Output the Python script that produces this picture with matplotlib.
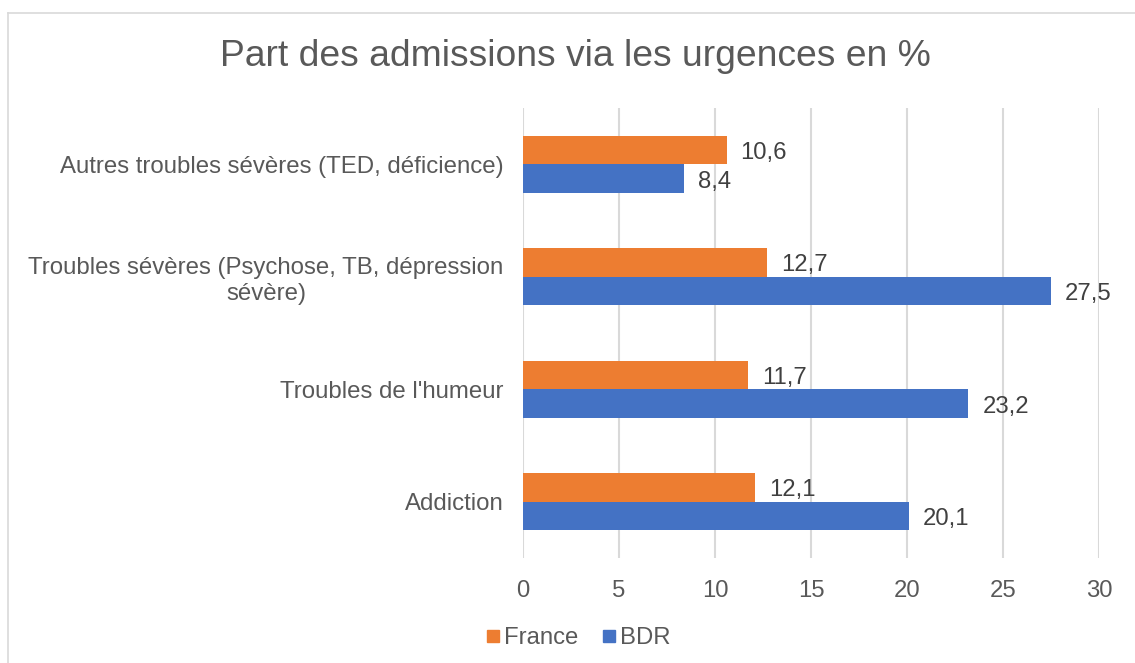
import matplotlib
matplotlib.use("Agg")
import matplotlib.pyplot as plt
from matplotlib.lines import Line2D
import numpy as np

plt.rcParams['font.family'] = ['Liberation Sans', 'DejaVu Sans']

categories = ["Addiction", "Troubles de l'humeur",
              "Troubles sévères (Psychose, TB, dépression\nsévère)",
              "Autres troubles sévères (TED, déficience)"]
france = [12.1, 11.7, 12.7, 10.6]
bdr = [20.1, 23.2, 27.5, 8.4]
xticks = [0, 5, 10, 15, 20, 25, 30]

c_fr = "#ED7D31"
c_bdr = "#4472C4"
txt = "#595959"
grid = "#D9D9D9"

fig = plt.figure(figsize=(11.35, 6.63), dpi=100)
ax = fig.add_axes([523/1135, 1-558/663, (1099-523)/1135, 450/663])

y = np.arange(len(categories))
h = 0.254
bf = ax.barh(y + h/2, france, height=h, color=c_fr, label="France", zorder=3)
bb = ax.barh(y - h/2, bdr, height=h, color=c_bdr, label="BDR", zorder=3)

for bars, vals in ((bf, france), (bb, bdr)):
    for b, v in zip(bars, vals):
        ax.annotate(f"{v:.1f}".replace(".", ","), (v, b.get_y() + b.get_height()/2),
                    xytext=(14, -3), textcoords="offset pixels",
                    ha="left", va="center", fontsize=17.2, color="#404040")

ax.set_xlim(0, 30)
ax.set_ylim(-0.5, len(categories) - 0.5)
ax.set_xticks(xticks)
ax.set_xticklabels([str(t) for t in xticks], fontsize=17.2, color=txt)
ax.set_yticks(y)
ax.set_yticklabels(categories, fontsize=17.3, color=txt, multialignment="center")
ax.tick_params(axis="both", length=0)
ax.tick_params(axis="x", pad=16)
ax.tick_params(axis="y", pad=14)
for s in ax.spines.values():
    s.set_visible(False)
ax.xaxis.grid(True, color=grid, linewidth=1.5, zorder=0)
ax.set_axisbelow(True)

fig.text(575/1135, 1-57/663, "Part des admissions via les urgences en %",
         ha="center", va="center", fontsize=26.8, color=txt)

handles = [Line2D([], [], marker="s", linestyle="none", markersize=8, color=c_fr),
           Line2D([], [], marker="s", linestyle="none", markersize=8, color=c_bdr)]
fig.legend(handles, ["France", "BDR"], loc="center", bbox_to_anchor=(578/1135, 1-638/663),
           ncol=2, frameon=False, fontsize=17.2, labelcolor=txt, handletextpad=0.15,
           columnspacing=1.0, handlelength=0.6)

# chart border (left and top visible)
fig.add_artist(Line2D([8/1135, 8/1135], [0, 1-13/663], transform=fig.transFigure, color=grid, lw=1.2))
fig.add_artist(Line2D([8/1135, 1], [1-13/663, 1-13/663], transform=fig.transFigure, color=grid, lw=1.2))

fig.savefig("out.png", dpi=100)
